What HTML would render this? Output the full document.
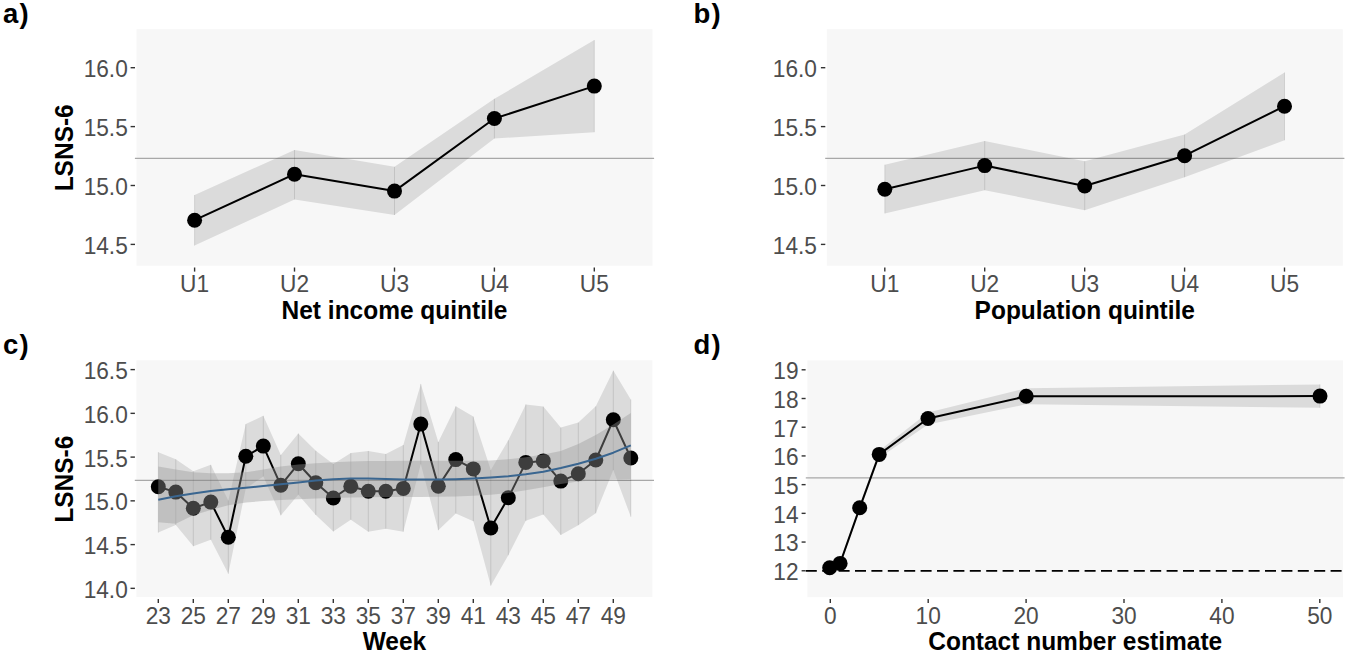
<!DOCTYPE html>
<html><head><meta charset="utf-8"><style>
html,body{margin:0;padding:0;background:#fff;}
svg{display:block;font-family:"Liberation Sans", sans-serif;}
</style></head><body>
<svg width="1347" height="654" viewBox="0 0 1347 654">
<rect width="1347" height="654" fill="#fff"/>
<rect x="136.5" y="29.2" width="516" height="236.5" fill="#f7f7f7"/>
<line x1="134.9" y1="158.4" x2="654.1" y2="158.4" stroke="#a8a8a8" stroke-width="1.2" />
<polygon points="194.6,195 294.5,150 394.5,166.8 494.4,98.8 594.3,40.1 594.3,132.2 494.4,138.6 394.5,215 294.5,199.4 194.6,245.6" fill="#000" fill-opacity="0.11"/>
<line x1="194.6" y1="195" x2="194.6" y2="245.6" stroke="#000" stroke-opacity="0.11" stroke-width="1"/>
<line x1="294.5" y1="150" x2="294.5" y2="199.4" stroke="#000" stroke-opacity="0.11" stroke-width="1"/>
<line x1="394.5" y1="166.8" x2="394.5" y2="215" stroke="#000" stroke-opacity="0.11" stroke-width="1"/>
<line x1="494.4" y1="98.8" x2="494.4" y2="138.6" stroke="#000" stroke-opacity="0.11" stroke-width="1"/>
<line x1="594.3" y1="40.1" x2="594.3" y2="132.2" stroke="#000" stroke-opacity="0.11" stroke-width="1"/>
<polyline points="194.6,220.2 294.5,174.2 394.5,191.1 494.4,118.5 594.3,86.1" fill="none" stroke="#000" stroke-width="2.0" stroke-linejoin="round" />
<circle cx="194.6" cy="220.2" r="7.5" fill="#000"/>
<circle cx="294.5" cy="174.2" r="7.5" fill="#000"/>
<circle cx="394.5" cy="191.1" r="7.5" fill="#000"/>
<circle cx="494.4" cy="118.5" r="7.5" fill="#000"/>
<circle cx="594.3" cy="86.1" r="7.5" fill="#000"/>
<line x1="130.6" y1="67.7" x2="135" y2="67.7" stroke="#333" stroke-width="1.4"/>
<text transform="translate(127.8 77.1) scale(1 1.065)" font-size="22.7" text-anchor="end" font-weight="normal" fill="#4d4d4d">16.0</text>
<line x1="130.6" y1="126.6" x2="135" y2="126.6" stroke="#333" stroke-width="1.4"/>
<text transform="translate(127.8 136) scale(1 1.065)" font-size="22.7" text-anchor="end" font-weight="normal" fill="#4d4d4d">15.5</text>
<line x1="130.6" y1="185.5" x2="135" y2="185.5" stroke="#333" stroke-width="1.4"/>
<text transform="translate(127.8 194.9) scale(1 1.065)" font-size="22.7" text-anchor="end" font-weight="normal" fill="#4d4d4d">15.0</text>
<line x1="130.6" y1="244.4" x2="135" y2="244.4" stroke="#333" stroke-width="1.4"/>
<text transform="translate(127.8 253.8) scale(1 1.065)" font-size="22.7" text-anchor="end" font-weight="normal" fill="#4d4d4d">14.5</text>
<line x1="194.6" y1="267.5" x2="194.6" y2="271.6" stroke="#333" stroke-width="1.4"/>
<text transform="translate(194.6 291.7) scale(1 1.065)" font-size="22.7" text-anchor="middle" font-weight="normal" fill="#4d4d4d">U1</text>
<line x1="294.5" y1="267.5" x2="294.5" y2="271.6" stroke="#333" stroke-width="1.4"/>
<text transform="translate(294.5 291.7) scale(1 1.065)" font-size="22.7" text-anchor="middle" font-weight="normal" fill="#4d4d4d">U2</text>
<line x1="394.5" y1="267.5" x2="394.5" y2="271.6" stroke="#333" stroke-width="1.4"/>
<text transform="translate(394.5 291.7) scale(1 1.065)" font-size="22.7" text-anchor="middle" font-weight="normal" fill="#4d4d4d">U3</text>
<line x1="494.4" y1="267.5" x2="494.4" y2="271.6" stroke="#333" stroke-width="1.4"/>
<text transform="translate(494.4 291.7) scale(1 1.065)" font-size="22.7" text-anchor="middle" font-weight="normal" fill="#4d4d4d">U4</text>
<line x1="594.3" y1="267.5" x2="594.3" y2="271.6" stroke="#333" stroke-width="1.4"/>
<text transform="translate(594.3 291.7) scale(1 1.065)" font-size="22.7" text-anchor="middle" font-weight="normal" fill="#4d4d4d">U5</text>
<text transform="translate(394.5 318.8) scale(1 1.03)" font-size="24.5" text-anchor="middle" font-weight="bold" fill="#000">Net income quintile</text>
<text transform="translate(72.9 147.8) rotate(-90) scale(1 1.03)" font-size="24.5" text-anchor="middle" font-weight="bold" fill="#000">LSNS-6</text>
<text transform="translate(3 22.6)" font-size="27.5" text-anchor="start" font-weight="bold" fill="#000" letter-spacing="1.1">a)</text>
<rect x="826.8" y="29.2" width="516" height="236.5" fill="#f7f7f7"/>
<line x1="825.2" y1="158.4" x2="1344.4" y2="158.4" stroke="#a8a8a8" stroke-width="1.2" />
<polygon points="884.8,164.7 984.7,141 1084.7,161.2 1184.6,134.5 1284.5,72.5 1284.5,140.3 1184.6,177.3 1084.7,210.2 984.7,190.2 884.8,213.4" fill="#000" fill-opacity="0.11"/>
<line x1="884.8" y1="164.7" x2="884.8" y2="213.4" stroke="#000" stroke-opacity="0.11" stroke-width="1"/>
<line x1="984.7" y1="141" x2="984.7" y2="190.2" stroke="#000" stroke-opacity="0.11" stroke-width="1"/>
<line x1="1084.7" y1="161.2" x2="1084.7" y2="210.2" stroke="#000" stroke-opacity="0.11" stroke-width="1"/>
<line x1="1184.6" y1="134.5" x2="1184.6" y2="177.3" stroke="#000" stroke-opacity="0.11" stroke-width="1"/>
<line x1="1284.5" y1="72.5" x2="1284.5" y2="140.3" stroke="#000" stroke-opacity="0.11" stroke-width="1"/>
<polyline points="884.8,189.2 984.7,165.6 1084.7,186 1184.6,155.7 1284.5,106.2" fill="none" stroke="#000" stroke-width="2.0" stroke-linejoin="round" />
<circle cx="884.8" cy="189.2" r="7.5" fill="#000"/>
<circle cx="984.7" cy="165.6" r="7.5" fill="#000"/>
<circle cx="1084.7" cy="186" r="7.5" fill="#000"/>
<circle cx="1184.6" cy="155.7" r="7.5" fill="#000"/>
<circle cx="1284.5" cy="106.2" r="7.5" fill="#000"/>
<line x1="820.9" y1="67.7" x2="825.3" y2="67.7" stroke="#333" stroke-width="1.4"/>
<text transform="translate(817 77.1) scale(1 1.065)" font-size="22.7" text-anchor="end" font-weight="normal" fill="#4d4d4d">16.0</text>
<line x1="820.9" y1="126.6" x2="825.3" y2="126.6" stroke="#333" stroke-width="1.4"/>
<text transform="translate(817 136) scale(1 1.065)" font-size="22.7" text-anchor="end" font-weight="normal" fill="#4d4d4d">15.5</text>
<line x1="820.9" y1="185.5" x2="825.3" y2="185.5" stroke="#333" stroke-width="1.4"/>
<text transform="translate(817 194.9) scale(1 1.065)" font-size="22.7" text-anchor="end" font-weight="normal" fill="#4d4d4d">15.0</text>
<line x1="820.9" y1="244.4" x2="825.3" y2="244.4" stroke="#333" stroke-width="1.4"/>
<text transform="translate(817 253.8) scale(1 1.065)" font-size="22.7" text-anchor="end" font-weight="normal" fill="#4d4d4d">14.5</text>
<line x1="884.8" y1="267.5" x2="884.8" y2="271.6" stroke="#333" stroke-width="1.4"/>
<text transform="translate(884.8 291.7) scale(1 1.065)" font-size="22.7" text-anchor="middle" font-weight="normal" fill="#4d4d4d">U1</text>
<line x1="984.7" y1="267.5" x2="984.7" y2="271.6" stroke="#333" stroke-width="1.4"/>
<text transform="translate(984.7 291.7) scale(1 1.065)" font-size="22.7" text-anchor="middle" font-weight="normal" fill="#4d4d4d">U2</text>
<line x1="1084.7" y1="267.5" x2="1084.7" y2="271.6" stroke="#333" stroke-width="1.4"/>
<text transform="translate(1084.7 291.7) scale(1 1.065)" font-size="22.7" text-anchor="middle" font-weight="normal" fill="#4d4d4d">U3</text>
<line x1="1184.6" y1="267.5" x2="1184.6" y2="271.6" stroke="#333" stroke-width="1.4"/>
<text transform="translate(1184.6 291.7) scale(1 1.065)" font-size="22.7" text-anchor="middle" font-weight="normal" fill="#4d4d4d">U4</text>
<line x1="1284.5" y1="267.5" x2="1284.5" y2="271.6" stroke="#333" stroke-width="1.4"/>
<text transform="translate(1284.5 291.7) scale(1 1.065)" font-size="22.7" text-anchor="middle" font-weight="normal" fill="#4d4d4d">U5</text>
<text transform="translate(1084.8 318.8) scale(1 1.03)" font-size="24.5" text-anchor="middle" font-weight="bold" fill="#000">Population quintile</text>
<text transform="translate(693.5 22.6)" font-size="27.5" text-anchor="start" font-weight="bold" fill="#000" letter-spacing="1.1">b)</text>
<rect x="136.4" y="360.3" width="516" height="236.8" fill="#f7f7f7"/>
<line x1="134.8" y1="480.4" x2="654" y2="480.4" stroke="#a8a8a8" stroke-width="1.2" />
<polygon points="158.3,452.2 175.8,459.3 193.3,471.2 210.8,464.8 228.3,500.5 245.8,424.1 263.3,415.8 280.8,455 298.3,433.5 315.8,450.7 333.3,464.1 350.8,453.1 368.3,450.9 385.8,453.9 403.3,445.1 420.8,383.9 438.3,442 455.8,406.3 473.3,416.6 490.8,470.1 508.3,440.3 525.8,404.4 543.3,406.6 560.8,427.6 578.3,422.6 595.8,406.3 613.3,370.6 630.8,399.5 630.8,516.8 613.3,470.1 595.8,513.3 578.3,525.2 560.8,534.9 543.3,514.6 525.8,520.8 508.3,555.3 490.8,585.7 473.3,521.2 455.8,513.5 438.3,530.3 420.8,464.3 403.3,531.7 385.8,528.8 368.3,531.7 350.8,519.7 333.3,531.5 315.8,515 298.3,494.7 280.8,515.4 263.3,476.4 245.8,488.5 228.3,573.8 210.8,539.7 193.3,546.3 175.8,524.9 158.3,532.6" fill="#000" fill-opacity="0.11"/>
<line x1="158.3" y1="452.2" x2="158.3" y2="532.6" stroke="#000" stroke-opacity="0.11" stroke-width="1"/>
<line x1="175.8" y1="459.3" x2="175.8" y2="524.9" stroke="#000" stroke-opacity="0.11" stroke-width="1"/>
<line x1="193.3" y1="471.2" x2="193.3" y2="546.3" stroke="#000" stroke-opacity="0.11" stroke-width="1"/>
<line x1="210.8" y1="464.8" x2="210.8" y2="539.7" stroke="#000" stroke-opacity="0.11" stroke-width="1"/>
<line x1="228.3" y1="500.5" x2="228.3" y2="573.8" stroke="#000" stroke-opacity="0.11" stroke-width="1"/>
<line x1="245.8" y1="424.1" x2="245.8" y2="488.5" stroke="#000" stroke-opacity="0.11" stroke-width="1"/>
<line x1="263.3" y1="415.8" x2="263.3" y2="476.4" stroke="#000" stroke-opacity="0.11" stroke-width="1"/>
<line x1="280.8" y1="455" x2="280.8" y2="515.4" stroke="#000" stroke-opacity="0.11" stroke-width="1"/>
<line x1="298.3" y1="433.5" x2="298.3" y2="494.7" stroke="#000" stroke-opacity="0.11" stroke-width="1"/>
<line x1="315.8" y1="450.7" x2="315.8" y2="515" stroke="#000" stroke-opacity="0.11" stroke-width="1"/>
<line x1="333.3" y1="464.1" x2="333.3" y2="531.5" stroke="#000" stroke-opacity="0.11" stroke-width="1"/>
<line x1="350.8" y1="453.1" x2="350.8" y2="519.7" stroke="#000" stroke-opacity="0.11" stroke-width="1"/>
<line x1="368.3" y1="450.9" x2="368.3" y2="531.7" stroke="#000" stroke-opacity="0.11" stroke-width="1"/>
<line x1="385.8" y1="453.9" x2="385.8" y2="528.8" stroke="#000" stroke-opacity="0.11" stroke-width="1"/>
<line x1="403.3" y1="445.1" x2="403.3" y2="531.7" stroke="#000" stroke-opacity="0.11" stroke-width="1"/>
<line x1="420.8" y1="383.9" x2="420.8" y2="464.3" stroke="#000" stroke-opacity="0.11" stroke-width="1"/>
<line x1="438.3" y1="442" x2="438.3" y2="530.3" stroke="#000" stroke-opacity="0.11" stroke-width="1"/>
<line x1="455.8" y1="406.3" x2="455.8" y2="513.5" stroke="#000" stroke-opacity="0.11" stroke-width="1"/>
<line x1="473.3" y1="416.6" x2="473.3" y2="521.2" stroke="#000" stroke-opacity="0.11" stroke-width="1"/>
<line x1="490.8" y1="470.1" x2="490.8" y2="585.7" stroke="#000" stroke-opacity="0.11" stroke-width="1"/>
<line x1="508.3" y1="440.3" x2="508.3" y2="555.3" stroke="#000" stroke-opacity="0.11" stroke-width="1"/>
<line x1="525.8" y1="404.4" x2="525.8" y2="520.8" stroke="#000" stroke-opacity="0.11" stroke-width="1"/>
<line x1="543.3" y1="406.6" x2="543.3" y2="514.6" stroke="#000" stroke-opacity="0.11" stroke-width="1"/>
<line x1="560.8" y1="427.6" x2="560.8" y2="534.9" stroke="#000" stroke-opacity="0.11" stroke-width="1"/>
<line x1="578.3" y1="422.6" x2="578.3" y2="525.2" stroke="#000" stroke-opacity="0.11" stroke-width="1"/>
<line x1="595.8" y1="406.3" x2="595.8" y2="513.3" stroke="#000" stroke-opacity="0.11" stroke-width="1"/>
<line x1="613.3" y1="370.6" x2="613.3" y2="470.1" stroke="#000" stroke-opacity="0.11" stroke-width="1"/>
<line x1="630.8" y1="399.5" x2="630.8" y2="516.8" stroke="#000" stroke-opacity="0.11" stroke-width="1"/>
<polyline points="158.3,486.7 175.8,492.1 193.3,508.2 210.8,502.1 228.3,537.3 245.8,456.3 263.3,446.1 280.8,485.3 298.3,463.8 315.8,482.8 333.3,498 350.8,486.2 368.3,491.2 385.8,491.3 403.3,488.4 420.8,424.1 438.3,486.3 455.8,459.6 473.3,468.9 490.8,528 508.3,497.8 525.8,462.4 543.3,460.9 560.8,481.1 578.3,473.8 595.8,460 613.3,419.8 630.8,458" fill="none" stroke="#000" stroke-width="2.0" stroke-linejoin="round" />
<circle cx="158.3" cy="486.7" r="7.5" fill="#000"/>
<circle cx="175.8" cy="492.1" r="7.5" fill="#000"/>
<circle cx="193.3" cy="508.2" r="7.5" fill="#000"/>
<circle cx="210.8" cy="502.1" r="7.5" fill="#000"/>
<circle cx="228.3" cy="537.3" r="7.5" fill="#000"/>
<circle cx="245.8" cy="456.3" r="7.5" fill="#000"/>
<circle cx="263.3" cy="446.1" r="7.5" fill="#000"/>
<circle cx="280.8" cy="485.3" r="7.5" fill="#000"/>
<circle cx="298.3" cy="463.8" r="7.5" fill="#000"/>
<circle cx="315.8" cy="482.8" r="7.5" fill="#000"/>
<circle cx="333.3" cy="498" r="7.5" fill="#000"/>
<circle cx="350.8" cy="486.2" r="7.5" fill="#000"/>
<circle cx="368.3" cy="491.2" r="7.5" fill="#000"/>
<circle cx="385.8" cy="491.3" r="7.5" fill="#000"/>
<circle cx="403.3" cy="488.4" r="7.5" fill="#000"/>
<circle cx="420.8" cy="424.1" r="7.5" fill="#000"/>
<circle cx="438.3" cy="486.3" r="7.5" fill="#000"/>
<circle cx="455.8" cy="459.6" r="7.5" fill="#000"/>
<circle cx="473.3" cy="468.9" r="7.5" fill="#000"/>
<circle cx="490.8" cy="528" r="7.5" fill="#000"/>
<circle cx="508.3" cy="497.8" r="7.5" fill="#000"/>
<circle cx="525.8" cy="462.4" r="7.5" fill="#000"/>
<circle cx="543.3" cy="460.9" r="7.5" fill="#000"/>
<circle cx="560.8" cy="481.1" r="7.5" fill="#000"/>
<circle cx="578.3" cy="473.8" r="7.5" fill="#000"/>
<circle cx="595.8" cy="460" r="7.5" fill="#000"/>
<circle cx="613.3" cy="419.8" r="7.5" fill="#000"/>
<circle cx="630.8" cy="458" r="7.5" fill="#000"/>
<polygon points="158.3,466.4 175.8,469.6 193.3,472.2 210.8,473.2 228.3,473.2 245.8,472.2 263.3,469.6 280.8,466.6 298.3,464.6 315.8,463.2 333.3,462.2 350.8,461.5 368.3,461.1 385.8,460.9 403.3,460.8 420.8,460.8 438.3,460.8 455.8,460.8 473.3,460.7 490.8,460.4 508.3,459.3 525.8,457.3 543.3,454.4 560.8,450.9 578.3,444.1 595.8,435 613.3,424.6 630.8,413 630.8,479 613.3,479.6 595.8,480.3 578.3,481.6 560.8,484.1 543.3,487.2 525.8,490.3 508.3,493 490.8,494.8 473.3,495.8 455.8,496.4 438.3,496.8 420.8,497 403.3,497 385.8,497.1 368.3,497.3 350.8,497.6 333.3,498 315.8,498.5 298.3,499.2 280.8,500 263.3,501 245.8,502.6 228.3,505.2 210.8,510 193.3,515.2 175.8,523.8 158.3,522.3" fill="#999999" fill-opacity="0.4"/>
<polyline points="158.3,499.7 175.8,496.3 193.3,493.4 210.8,491.1 228.3,489.3 245.8,487.7 263.3,486 280.8,484.3 298.3,482.4 315.8,480.6 333.3,479.2 350.8,478.4 368.3,478.5 385.8,479.1 403.3,479.5 420.8,479.6 438.3,479.6 455.8,479.2 473.3,478.5 490.8,477.5 508.3,476.3 525.8,474.2 543.3,471.7 560.8,468 578.3,463.7 595.8,458.8 613.3,452.7 630.8,445.4" fill="none" stroke="#3a6690" stroke-width="2.0" stroke-linejoin="round" />
<line x1="130.5" y1="369.6" x2="134.9" y2="369.6" stroke="#333" stroke-width="1.4"/>
<text transform="translate(127.8 379) scale(1 1.065)" font-size="22.7" text-anchor="end" font-weight="normal" fill="#4d4d4d">16.5</text>
<line x1="130.5" y1="413.35" x2="134.9" y2="413.35" stroke="#333" stroke-width="1.4"/>
<text transform="translate(127.8 422.75) scale(1 1.065)" font-size="22.7" text-anchor="end" font-weight="normal" fill="#4d4d4d">16.0</text>
<line x1="130.5" y1="457.1" x2="134.9" y2="457.1" stroke="#333" stroke-width="1.4"/>
<text transform="translate(127.8 466.5) scale(1 1.065)" font-size="22.7" text-anchor="end" font-weight="normal" fill="#4d4d4d">15.5</text>
<line x1="130.5" y1="500.85" x2="134.9" y2="500.85" stroke="#333" stroke-width="1.4"/>
<text transform="translate(127.8 510.25) scale(1 1.065)" font-size="22.7" text-anchor="end" font-weight="normal" fill="#4d4d4d">15.0</text>
<line x1="130.5" y1="544.6" x2="134.9" y2="544.6" stroke="#333" stroke-width="1.4"/>
<text transform="translate(127.8 554) scale(1 1.065)" font-size="22.7" text-anchor="end" font-weight="normal" fill="#4d4d4d">14.5</text>
<line x1="130.5" y1="588.35" x2="134.9" y2="588.35" stroke="#333" stroke-width="1.4"/>
<text transform="translate(127.8 597.75) scale(1 1.065)" font-size="22.7" text-anchor="end" font-weight="normal" fill="#4d4d4d">14.0</text>
<line x1="158.3" y1="598.9" x2="158.3" y2="603" stroke="#333" stroke-width="1.4"/>
<text transform="translate(158.3 623.6) scale(1 1.065)" font-size="22.7" text-anchor="middle" font-weight="normal" fill="#4d4d4d">23</text>
<line x1="193.3" y1="598.9" x2="193.3" y2="603" stroke="#333" stroke-width="1.4"/>
<text transform="translate(193.3 623.6) scale(1 1.065)" font-size="22.7" text-anchor="middle" font-weight="normal" fill="#4d4d4d">25</text>
<line x1="228.3" y1="598.9" x2="228.3" y2="603" stroke="#333" stroke-width="1.4"/>
<text transform="translate(228.3 623.6) scale(1 1.065)" font-size="22.7" text-anchor="middle" font-weight="normal" fill="#4d4d4d">27</text>
<line x1="263.3" y1="598.9" x2="263.3" y2="603" stroke="#333" stroke-width="1.4"/>
<text transform="translate(263.3 623.6) scale(1 1.065)" font-size="22.7" text-anchor="middle" font-weight="normal" fill="#4d4d4d">29</text>
<line x1="298.3" y1="598.9" x2="298.3" y2="603" stroke="#333" stroke-width="1.4"/>
<text transform="translate(298.3 623.6) scale(1 1.065)" font-size="22.7" text-anchor="middle" font-weight="normal" fill="#4d4d4d">31</text>
<line x1="333.3" y1="598.9" x2="333.3" y2="603" stroke="#333" stroke-width="1.4"/>
<text transform="translate(333.3 623.6) scale(1 1.065)" font-size="22.7" text-anchor="middle" font-weight="normal" fill="#4d4d4d">33</text>
<line x1="368.3" y1="598.9" x2="368.3" y2="603" stroke="#333" stroke-width="1.4"/>
<text transform="translate(368.3 623.6) scale(1 1.065)" font-size="22.7" text-anchor="middle" font-weight="normal" fill="#4d4d4d">35</text>
<line x1="403.3" y1="598.9" x2="403.3" y2="603" stroke="#333" stroke-width="1.4"/>
<text transform="translate(403.3 623.6) scale(1 1.065)" font-size="22.7" text-anchor="middle" font-weight="normal" fill="#4d4d4d">37</text>
<line x1="438.3" y1="598.9" x2="438.3" y2="603" stroke="#333" stroke-width="1.4"/>
<text transform="translate(438.3 623.6) scale(1 1.065)" font-size="22.7" text-anchor="middle" font-weight="normal" fill="#4d4d4d">39</text>
<line x1="473.3" y1="598.9" x2="473.3" y2="603" stroke="#333" stroke-width="1.4"/>
<text transform="translate(473.3 623.6) scale(1 1.065)" font-size="22.7" text-anchor="middle" font-weight="normal" fill="#4d4d4d">41</text>
<line x1="508.3" y1="598.9" x2="508.3" y2="603" stroke="#333" stroke-width="1.4"/>
<text transform="translate(508.3 623.6) scale(1 1.065)" font-size="22.7" text-anchor="middle" font-weight="normal" fill="#4d4d4d">43</text>
<line x1="543.3" y1="598.9" x2="543.3" y2="603" stroke="#333" stroke-width="1.4"/>
<text transform="translate(543.3 623.6) scale(1 1.065)" font-size="22.7" text-anchor="middle" font-weight="normal" fill="#4d4d4d">45</text>
<line x1="578.3" y1="598.9" x2="578.3" y2="603" stroke="#333" stroke-width="1.4"/>
<text transform="translate(578.3 623.6) scale(1 1.065)" font-size="22.7" text-anchor="middle" font-weight="normal" fill="#4d4d4d">47</text>
<line x1="613.3" y1="598.9" x2="613.3" y2="603" stroke="#333" stroke-width="1.4"/>
<text transform="translate(613.3 623.6) scale(1 1.065)" font-size="22.7" text-anchor="middle" font-weight="normal" fill="#4d4d4d">49</text>
<text transform="translate(394.4 650) scale(1 1.03)" font-size="24.5" text-anchor="middle" font-weight="bold" fill="#000">Week</text>
<text transform="translate(72.9 479.2) rotate(-90) scale(1 1.03)" font-size="24.5" text-anchor="middle" font-weight="bold" fill="#000">LSNS-6</text>
<text transform="translate(3 354.3)" font-size="27.5" text-anchor="start" font-weight="bold" fill="#000" letter-spacing="1.1">c)</text>
<rect x="807.4" y="360.4" width="535.6" height="236.8" fill="#f7f7f7"/>
<line x1="805.8" y1="477.9" x2="1344.6" y2="477.9" stroke="#a8a8a8" stroke-width="1.2" />
<line x1="805.8" y1="570.8" x2="1344.6" y2="570.8" stroke="#000" stroke-width="1.7" stroke-dasharray="11 5.4"/>
<polygon points="829.7,565.7 840.1,561.2 859.7,504.8 879.2,450.8 928,412.5 1026.2,388.3 1320,384.4 1320,407.8 1026.2,404.3 928,424.5 879.2,458 859.7,510.8 840.1,565.6 829.7,569.7" fill="#000" fill-opacity="0.11"/>
<line x1="829.7" y1="565.7" x2="829.7" y2="569.7" stroke="#000" stroke-opacity="0.11" stroke-width="1"/>
<line x1="840.1" y1="561.2" x2="840.1" y2="565.6" stroke="#000" stroke-opacity="0.11" stroke-width="1"/>
<line x1="859.7" y1="504.8" x2="859.7" y2="510.8" stroke="#000" stroke-opacity="0.11" stroke-width="1"/>
<line x1="879.2" y1="450.8" x2="879.2" y2="458" stroke="#000" stroke-opacity="0.11" stroke-width="1"/>
<line x1="928" y1="412.5" x2="928" y2="424.5" stroke="#000" stroke-opacity="0.11" stroke-width="1"/>
<line x1="1026.2" y1="388.3" x2="1026.2" y2="404.3" stroke="#000" stroke-opacity="0.11" stroke-width="1"/>
<line x1="1320" y1="384.4" x2="1320" y2="407.8" stroke="#000" stroke-opacity="0.11" stroke-width="1"/>
<polyline points="829.7,567.7 840.1,563.4 859.7,507.8 879.2,454.4 928,418.5 1026.2,396.3 1320,396.1" fill="none" stroke="#000" stroke-width="2.0" stroke-linejoin="round" />
<circle cx="829.7" cy="567.7" r="7.5" fill="#000"/>
<circle cx="840.1" cy="563.4" r="7.5" fill="#000"/>
<circle cx="859.7" cy="507.8" r="7.5" fill="#000"/>
<circle cx="879.2" cy="454.4" r="7.5" fill="#000"/>
<circle cx="928" cy="418.5" r="7.5" fill="#000"/>
<circle cx="1026.2" cy="396.3" r="7.5" fill="#000"/>
<circle cx="1320" cy="396.1" r="7.5" fill="#000"/>
<line x1="801.6" y1="369.8" x2="805.6" y2="369.8" stroke="#333" stroke-width="1.4"/>
<text transform="translate(798.6 379.2) scale(1 1.065)" font-size="22.7" text-anchor="end" font-weight="normal" fill="#4d4d4d">19</text>
<line x1="801.6" y1="398.51" x2="805.6" y2="398.51" stroke="#333" stroke-width="1.4"/>
<text transform="translate(798.6 407.91) scale(1 1.065)" font-size="22.7" text-anchor="end" font-weight="normal" fill="#4d4d4d">18</text>
<line x1="801.6" y1="427.22" x2="805.6" y2="427.22" stroke="#333" stroke-width="1.4"/>
<text transform="translate(798.6 436.62) scale(1 1.065)" font-size="22.7" text-anchor="end" font-weight="normal" fill="#4d4d4d">17</text>
<line x1="801.6" y1="455.93" x2="805.6" y2="455.93" stroke="#333" stroke-width="1.4"/>
<text transform="translate(798.6 465.33) scale(1 1.065)" font-size="22.7" text-anchor="end" font-weight="normal" fill="#4d4d4d">16</text>
<line x1="801.6" y1="484.64" x2="805.6" y2="484.64" stroke="#333" stroke-width="1.4"/>
<text transform="translate(798.6 494.04) scale(1 1.065)" font-size="22.7" text-anchor="end" font-weight="normal" fill="#4d4d4d">15</text>
<line x1="801.6" y1="513.35" x2="805.6" y2="513.35" stroke="#333" stroke-width="1.4"/>
<text transform="translate(798.6 522.75) scale(1 1.065)" font-size="22.7" text-anchor="end" font-weight="normal" fill="#4d4d4d">14</text>
<line x1="801.6" y1="542.06" x2="805.6" y2="542.06" stroke="#333" stroke-width="1.4"/>
<text transform="translate(798.6 551.46) scale(1 1.065)" font-size="22.7" text-anchor="end" font-weight="normal" fill="#4d4d4d">13</text>
<line x1="801.6" y1="570.77" x2="805.6" y2="570.77" stroke="#333" stroke-width="1.4"/>
<text transform="translate(798.6 580.17) scale(1 1.065)" font-size="22.7" text-anchor="end" font-weight="normal" fill="#4d4d4d">12</text>
<line x1="830.3" y1="599" x2="830.3" y2="603.1" stroke="#333" stroke-width="1.4"/>
<text transform="translate(830.3 623.6) scale(1 1.065)" font-size="22.7" text-anchor="middle" font-weight="normal" fill="#4d4d4d">0</text>
<line x1="928.2" y1="599" x2="928.2" y2="603.1" stroke="#333" stroke-width="1.4"/>
<text transform="translate(928.2 623.6) scale(1 1.065)" font-size="22.7" text-anchor="middle" font-weight="normal" fill="#4d4d4d">10</text>
<line x1="1026.1" y1="599" x2="1026.1" y2="603.1" stroke="#333" stroke-width="1.4"/>
<text transform="translate(1026.1 623.6) scale(1 1.065)" font-size="22.7" text-anchor="middle" font-weight="normal" fill="#4d4d4d">20</text>
<line x1="1124" y1="599" x2="1124" y2="603.1" stroke="#333" stroke-width="1.4"/>
<text transform="translate(1124 623.6) scale(1 1.065)" font-size="22.7" text-anchor="middle" font-weight="normal" fill="#4d4d4d">30</text>
<line x1="1221.9" y1="599" x2="1221.9" y2="603.1" stroke="#333" stroke-width="1.4"/>
<text transform="translate(1221.9 623.6) scale(1 1.065)" font-size="22.7" text-anchor="middle" font-weight="normal" fill="#4d4d4d">40</text>
<line x1="1319.8" y1="599" x2="1319.8" y2="603.1" stroke="#333" stroke-width="1.4"/>
<text transform="translate(1319.8 623.6) scale(1 1.065)" font-size="22.7" text-anchor="middle" font-weight="normal" fill="#4d4d4d">50</text>
<text transform="translate(1075.2 650) scale(1 1.03)" font-size="24.5" text-anchor="middle" font-weight="bold" fill="#000">Contact number estimate</text>
<text transform="translate(693.5 354.3)" font-size="27.5" text-anchor="start" font-weight="bold" fill="#000" letter-spacing="1.1">d)</text>
</svg>
</body></html>
